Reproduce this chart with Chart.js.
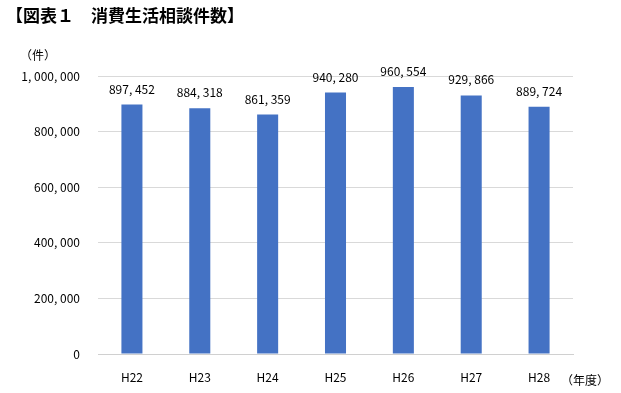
<!DOCTYPE html>
<html><head><meta charset="utf-8">
<script src="https://cdn.jsdelivr.net/npm/chart.js@4/dist/chart.umd.min.js"></script>
<style>html,body{margin:0;padding:0;background:#fff}#wrap{width:621px;height:393px;position:relative}</style>
</head><body><div id="wrap"><canvas id="c" width="621" height="393"></canvas></div>
<script>
const categories = ["H22","H23","H24","H25","H26","H27","H28"];
const counts = [897452, 884318, 861359, 940280, 960554, 929866, 889724];
const yTicks = [0, 200000, 400000, 600000, 800000, 1000000];
const titleText = "【図表１　消費生活相談件数】";
const yUnit = "（件）";
const xUnit = "（年度）";
const FONT = "'Noto Sans CJK JP', 'DejaVu Sans', sans-serif";
function fmt(v){ return v.toLocaleString('en-US').replace(/,/g, ", "); }

const textPlugin = {
  id: 'texts',
  afterDraw(chart){
    const ctx = chart.ctx;
    ctx.save();
    ctx.fillStyle = '#000';
    ctx.font = "bold 17px " + FONT;
    ctx.textAlign = 'left'; ctx.textBaseline = 'middle';
    ctx.fillText(titleText, 6, 16);
    ctx.font = "12px " + FONT;
    ctx.fillText(yUnit, 20, 55);
    ctx.fillText(xUnit, 561, 380);
    const meta = chart.getDatasetMeta(0);
    ctx.textAlign = 'center'; ctx.textBaseline = 'alphabetic';
    meta.data.forEach((bar, i) => {
      ctx.fillText(fmt(counts[i]), bar.x, bar.y - 11);
    });
    ctx.restore();
  }
};

new Chart(document.getElementById('c'), {
  type: 'bar',
  data: { labels: categories, datasets: [{ data: counts, backgroundColor: '#4472c4', borderWidth: 0,
    barPercentage: 0.31, categoryPercentage: 1.0 }] },
  options: {
    responsive: false, animation: false,
    layout: { padding: { top: 76, right: 48, left: 0, bottom: 0 } },
    plugins: { legend: { display: false }, tooltip: { enabled: false }, title: { display: false } },
    scales: {
      x: {
        grid: { display: false },
        border: { display: true, color: '#d0d0d0', width: 1 },
        ticks: { color: '#000', font: { family: FONT, size: 12 }, padding: 8 },
        afterFit(s){ s.height = 39; }
      },
      y: {
        min: 0, max: 1000000,
        afterBuildTicks(s){ s.ticks = yTicks.map(v => ({ value: v })); },
        grid: { color: '#d9d9d9', drawTicks: false },
        border: { display: false },
        ticks: { color: '#000', font: { family: FONT, size: 12 }, padding: 18,
          callback: v => fmt(v) },
        afterFit(s){ s.width = 98; }
      }
    }
  },
  plugins: [textPlugin]
});
</script></body></html>
